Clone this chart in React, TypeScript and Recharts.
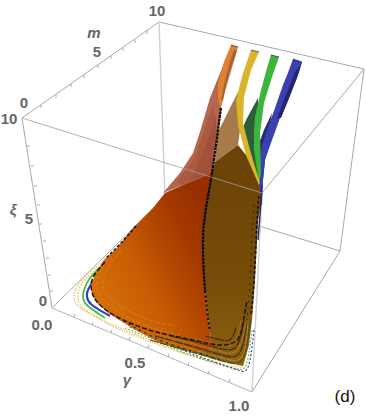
import { ScatterChart, Scatter, XAxis, YAxis } from 'recharts';

type Pt = [number, number];

const backEdges: Pt[][] = [
  [[22, 118], [159, 22]],
  [[159, 22], [364, 69]],
  [[364, 69], [340, 251]],
  [[340, 251], [165, 197]],
  [[22, 118], [52, 308]],
  [[52, 308], [165, 197]],
  [[364, 69], [262, 193]],
  [[340, 251], [252, 392]],
];
const paleEdges: Pt[][] = [
  [[159, 22], [165, 197]],
  [[262, 193], [252, 392]],
];
const frontEdges: Pt[][] = [
  [[22, 118], [262, 193]],
  [[52, 308], [252, 392]],
];

const mTicks: Pt[] = [[41, 105], [56, 95], [71, 84], [84, 75], [98, 65], [111, 56], [123, 48], [135, 40], [147, 31]];
const xiTicks: Pt[] = [[27, 146], [31, 166], [34, 186], [37, 205], [39, 224], [43, 241], [46, 258], [48, 275], [50, 291]];
const gammaTicks: Pt[] = [[74, 317], [92, 325], [111, 333], [129, 340], [148, 348], [168, 357], [188, 365], [208, 374], [229, 382]];

const labels = [
  { x: 157, y: 10, text: '10' },
  { x: 94, y: 32, text: 'm', italic: true },
  { x: 97, y: 51, text: '5' },
  { x: 24, y: 102, text: '0' },
  { x: 9, y: 118, text: '10' },
  { x: 13, y: 209, text: 'ξ', italic: true },
  { x: 29, y: 218, text: '5' },
  { x: 43, y: 300, text: '0' },
  { x: 42, y: 324, text: '0.0' },
  { x: 135, y: 362, text: '0.5' },
  { x: 127, y: 379, text: 'γ', italic: true },
  { x: 239, y: 405, text: '1.0' },
];
const panelTag = [{ x: 345, y: 396, text: '(d)' }];

const navySheet: Pt[] = [[272, 113], [264, 130], [258, 146], [256, 165], [258, 184], [262, 190], [266, 150]];
const blueRibbon: Pt[] = [[293, 59], [302, 62], [297, 78], [289, 97], [280, 118], [272, 140], [265, 160], [263, 180], [262, 205], [258, 205], [259, 175], [261, 150], [267, 130], [275, 108], [283, 85], [289, 70]];
const blueSide: Pt[] = [[302, 62], [299, 72], [290, 96], [281, 118], [277, 118], [286, 95], [295, 72], [300, 66]];
const greenSheet: Pt[] = [[258, 98], [246, 120], [242, 130], [245, 150], [252, 170], [258, 183], [257, 140], [258, 115]];
const greenRibbon: Pt[] = [[271, 55], [279, 57], [272, 77], [264, 103], [260, 133], [261, 173], [259, 183], [254, 150], [254, 130], [255, 117], [261, 90], [267, 68]];
const yellowRibbon: Pt[] = [[251, 50], [259, 52], [251, 70], [244, 97], [243, 123], [250, 150], [260, 183], [258, 185], [245, 152], [238, 125], [236, 100], [243, 73]];
const tanSheet: Pt[] = [[238, 92], [220, 128], [218, 130], [215, 162], [238, 145], [240, 130], [238, 123]];
const orangeRibbon: Pt[] = [[231, 45], [238, 47], [235, 58], [229, 78], [225, 92], [221, 108], [218, 100], [218, 82], [224, 62]];
const orangeSide: Pt[] = [[237, 50], [232, 65], [226, 85], [223, 100], [221, 100], [225, 80], [230, 62], [234, 50]];
const rustSheet: Pt[] = [[224, 64], [218, 78], [210, 98], [205, 115], [200, 132], [193, 153], [180, 173], [163, 193], [183, 185], [200, 178], [212, 173], [218, 130], [221, 108], [220, 95]];
const rustBand: Pt[] = [[213, 105], [205, 128], [195, 158], [176, 182], [183, 185], [200, 178], [212, 173], [217, 130]];
const rustCore: Pt[] = [[216, 115], [208, 140], [198, 165], [190, 180], [200, 178], [212, 173], [216, 135]];

const mainLeft: Pt[] = [[212, 173], [200, 178], [183, 185], [165, 193], [153, 208], [133, 228], [117, 248], [103, 261], [95, 275], [91, 285], [92, 295], [97, 303], [108, 313], [132, 328], [160, 343], [193, 352], [212, 350], [210, 331], [208, 318], [205, 291], [203, 251], [205, 215]];
const mainRight: Pt[] = [[212, 173], [215, 162], [238, 145], [246, 155], [258, 183], [262, 195], [258, 222], [255, 280], [252, 320], [249, 345], [243, 366], [225, 362], [193, 352], [212, 350], [210, 331], [208, 318], [205, 291], [203, 251], [205, 215]];

const orangeRim: Pt[] = [[103, 262], [90, 272], [78, 285], [74, 295], [78, 306], [95, 316], [110, 325], [133, 335], [167, 348], [183, 353], [205, 359], [230, 366], [240, 364], [245, 350], [248, 320]];
const yellowRim: Pt[] = [[106, 262], [92, 273], [81, 285], [78, 297], [83, 308], [100, 319], [118, 327], [140, 336], [170, 348], [195, 357], [225, 366], [240, 368], [246, 355], [250, 325]];
const greenRim: Pt[] = [[125, 328], [150, 338], [178, 350], [205, 360], [232, 368], [243, 369], [248, 358], [252, 330]];
const greenRimLeft: Pt[] = [[100, 268], [90, 278], [84, 290], [83, 298], [88, 306], [105, 318]];
const blueRim: Pt[] = [[130, 327], [155, 338], [185, 351], [212, 361], [235, 369], [245, 371], [250, 360], [254, 330]];
const blueRimLeft: Pt[] = [[94, 280], [88, 290], [87, 297], [92, 305], [110, 316]];
const innerRims: { pts: Pt[]; color: string }[] = [
  { pts: [[150, 340], [195, 353], [222, 361], [238, 363], [246, 350], [250, 322]], color: '#2e5a20' },
  { pts: [[150, 337], [195, 350], [222, 358], [238, 360], [245, 348], [248, 322]], color: '#c07a28' },
  { pts: [[155, 336], [195, 347], [222, 355], [236, 356], [243, 344], [247, 322]], color: '#2a3a18' },
  { pts: [[160, 335], [197, 345], [222, 352], [235, 352], [242, 340], [246, 322]], color: '#b87420' },
  { pts: [[170, 336], [200, 343], [222, 349], [235, 348], [241, 335], [244, 320]], color: '#3a2a10' },
  { pts: [[185, 337], [205, 341], [222, 345], [233, 344], [239, 330], [241, 320]], color: '#a06818' },
  { pts: [[205, 336], [222, 340], [231, 339], [236, 328]], color: '#3f2c0c' },
];
const glowArcs: Pt[][] = [
  [[112, 256], [101, 270], [97, 285], [102, 298], [120, 313], [150, 327], [180, 335]],
  [[122, 250], [108, 268], [103, 285], [108, 296], [125, 309], [150, 320], [175, 326]],
];
const blackRim: Pt[] = [[105, 262], [95, 274], [91, 285], [93, 295], [98, 303], [112, 314], [135, 325], [160, 333], [193, 340], [220, 345], [237, 340], [243, 323], [247, 300]];
const darkFringe: Pt[] = [[118, 318], [145, 333], [170, 344], [195, 352], [220, 360]];
const blackShoulder: Pt[] = [[136, 226], [120, 244], [105, 259]];
const blackSpine: Pt[] = [[221, 108], [218, 130], [212, 173], [205, 215], [203, 251], [205, 291]];
const blackSpineLow: Pt[] = [[205, 291], [208, 318], [210, 331]];
const blackRight: Pt[] = [[259, 196], [257, 222], [254, 280], [251, 315]];
const darkRight: Pt[] = [[254, 205], [252, 240], [250, 280], [247, 320]];
const blueEdge: Pt[] = [[262, 185], [260, 215], [258, 240]];
const ribbonTops: Pt[][] = [
  [[231, 45], [238, 47]],
  [[251, 50], [259, 52]],
  [[271, 55], [279, 57]],
  [[293, 59], [302, 62]],
];

const toData = (pts: Pt[]) => pts.map(([x, y]) => ({ x, y }));
const noMark = () => <g />;

const sheet = (key: string, pts: Pt[], fill: string, opacity = 1) => (
  <Scatter
    key={key}
    data={toData(pts)}
    shape={noMark}
    line={{ fill, fillOpacity: opacity, stroke: 'none' }}
    lineType="joint"
    lineJointType="linear"
    isAnimationActive={false}
  />
);

const curve = (key: string, pts: Pt[], stroke: string, width = 1, dash?: string, opacity = 1) => (
  <Scatter
    key={key}
    data={toData(pts)}
    shape={noMark}
    line={{ fill: 'none', stroke, strokeWidth: width, strokeDasharray: dash, strokeOpacity: opacity }}
    lineType="joint"
    lineJointType="natural"
    isAnimationActive={false}
  />
);

const tickShape = (dx: number, dy: number) => (p: any) => (
  <line x1={p.cx} y1={p.cy} x2={p.cx + dx} y2={p.cy + dy} stroke="#aaa" strokeWidth={1} />
);

const labelShape = (p: any) => (
  <text
    x={p.cx}
    y={p.cy}
    textAnchor="middle"
    dominantBaseline="central"
    fontFamily="Liberation Sans"
    fontSize={15}
    fontStyle={p.payload.italic ? 'italic' : 'normal'}
    fontWeight={700}
    fill="#666"
  >
    {p.payload.text}
  </text>
);

const tagShape = (p: any) => (
  <text x={p.cx} y={p.cy} textAnchor="middle" dominantBaseline="central" fontFamily="Liberation Sans" fontSize={17} fill="#111">
    {p.payload.text}
  </text>
);

export default function App() {
  return (
    <div style={{ position: 'absolute', left: 0, top: 0 }}>
      <ScatterChart width={366} height={416} margin={{ top: 0, right: 0, bottom: 0, left: 0 }}>
        <defs>
          <linearGradient id="leftFill" x1="0" y1="1" x2="1" y2="0.25">
            <stop offset="0%" stopColor="#dc7a0c" />
            <stop offset="45%" stopColor="#c85e04" />
            <stop offset="80%" stopColor="#a53a00" />
            <stop offset="100%" stopColor="#962e00" />
          </linearGradient>
          <linearGradient id="rightFill" x1="0" y1="0" x2="0" y2="1">
            <stop offset="0%" stopColor="#6a4208" />
            <stop offset="60%" stopColor="#764c08" />
            <stop offset="100%" stopColor="#8e6010" />
          </linearGradient>
        </defs>
        <XAxis type="number" dataKey="x" domain={[0, 366]} hide />
        <YAxis type="number" dataKey="y" domain={[0, 416]} reversed hide />

        {backEdges.map((e, i) => curve(`back${i}`, e, '#a8a8a8', 1))}
        {paleEdges.map((e, i) => curve(`pale${i}`, e, '#cfcfcf', 1.4))}
        <Scatter data={toData(mTicks)} shape={tickShape(0, 3)} isAnimationActive={false} />
        <Scatter data={toData(xiTicks)} shape={tickShape(3, 0)} isAnimationActive={false} />
        <Scatter data={toData(gammaTicks)} shape={tickShape(1, -3)} isAnimationActive={false} />

        {curve('rimO', orangeRim, '#e8a040', 1.2, '1 1.5')}
        {curve('rimY', yellowRim, '#e0c030', 1.2, '1.5 1.5')}
        {curve('rimG', greenRim, '#48a848', 1.1, '1.5 2')}
        {curve('rimGL', greenRimLeft, '#48c048', 1.8)}
        {curve('rimB', blueRim, '#3a3fa0', 1.2, '2 2')}
        {curve('rimBL', blueRimLeft, '#3a3fb8', 2.2)}

        {sheet('navy', navySheet, '#2c2c6e')}
        {sheet('blue', blueRibbon, '#3a40b0')}
        {sheet('blueSide', blueSide, '#23266e')}
        {sheet('greenS', greenSheet, '#2f5f3a')}
        {sheet('green', greenRibbon, '#3bb53b')}
        {sheet('tan', tanSheet, '#a87a4a')}
        {sheet('yellow', yellowRibbon, '#d8b52a')}
        {sheet('rust', rustSheet, '#b5674e')}
        {sheet('rustBand', rustBand, '#a04a30', 0.45)}
        {sheet('rustCore', rustCore, '#98432c', 0.4)}
        {sheet('orange', orangeRibbon, '#e08030')}
        {sheet('orangeSide', orangeSide, '#9a6540')}
        {sheet('mainL', mainLeft, 'url(#leftFill)')}
        {sheet('mainR', mainRight, 'url(#rightFill)')}

        {ribbonTops.map((e, i) => curve(`top${i}`, e, '#222', 1, undefined, 0.7))}
        {glowArcs.map((e, i) => curve(`glow${i}`, e, '#e88a20', 1, '4 2', 0.6))}
        {innerRims.map((r, i) => curve(`inner${i}`, r.pts, r.color, 1.2, '9 1'))}
        {curve('fringe', darkFringe, '#3a2a10', 1.4, '2 4')}
        {curve('blackRim', blackRim, '#1a1208', 1.4, '5 2')}
        {curve('shoulder', blackShoulder, '#1a1208', 1.5, '3 2')}
        {curve('spine', blackSpine, '#0a0a0a', 2.2, '3 0.6')}
        {curve('spineLow', blackSpineLow, '#0a0a0a', 2, '2 2.5')}
        {curve('right', blackRight, '#1a1a10', 1.8, '3 2')}
        {curve('darkRight', darkRight, '#2a2a10', 1, '2 4')}
        {curve('blueEdge', blueEdge, '#28287a', 1.4)}

        {frontEdges.map((e, i) => curve(`front${i}`, e, '#a0a0a0', 1, undefined, 0.8))}
        <Scatter data={labels} shape={labelShape} isAnimationActive={false} />
        <Scatter data={panelTag} shape={tagShape} isAnimationActive={false} />
      </ScatterChart>
    </div>
  );
}
